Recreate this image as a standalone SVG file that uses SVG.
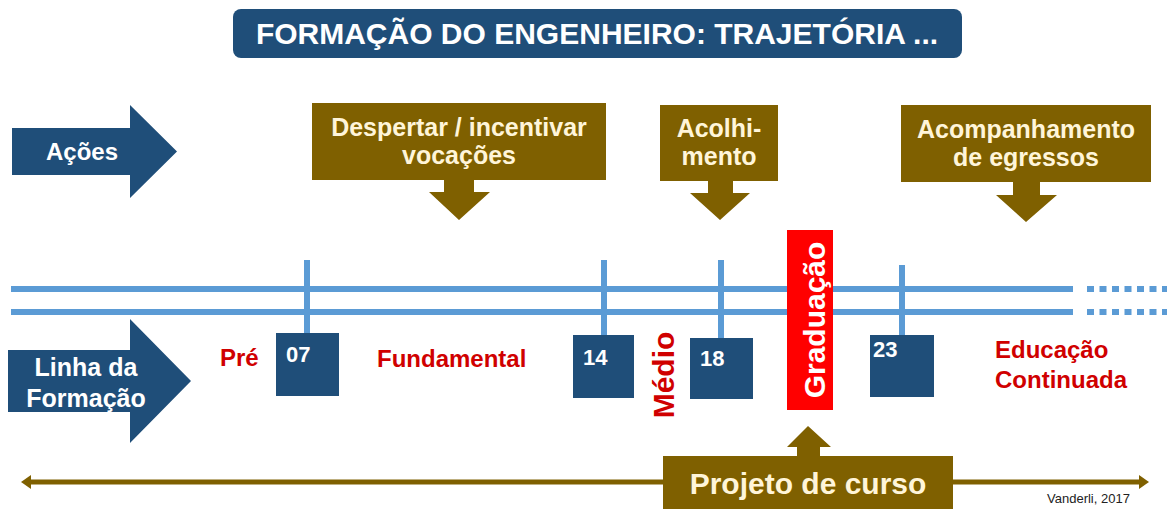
<svg xmlns="http://www.w3.org/2000/svg" width="1167" height="509" viewBox="0 0 1167 509">
<style>
text{font-family:"Liberation Sans",Arial,sans-serif;font-weight:bold}
.blue{fill:#1F4E79}
.brown{fill:#7F6000}
.cream{fill:#FFF5D9;font-size:25px;text-anchor:middle}
.white{fill:#FFFFFF}
.red{fill:#D00000;font-size:24px}
.num{fill:#FFFFFF;font-size:22px}
.tl{stroke:#5B9BD5;stroke-width:6;fill:none}
</style>
<rect width="1167" height="509" fill="#FFFFFF"/>

<g id="title">
<rect x="233" y="9" width="729" height="49" rx="8" class="blue"/>
<text x="597" y="44" class="white" font-size="30" text-anchor="middle">FORMAÇÃO DO ENGENHEIRO: TRAJETÓRIA ...</text>
</g>

<g id="acoes">
<polygon points="12,128 130,128 130,105 177,151.5 130,198 130,175 12,175" class="blue"/>
<text x="82" y="160" class="white" font-size="24" text-anchor="middle">Ações</text>
</g>

<g id="linha">
<polygon points="8,350 130,350 130,319 191,381 130,443 130,412 8,412" class="blue"/>
<text x="86" y="376" class="white" font-size="25" text-anchor="middle">Linha da</text>
<text x="86" y="407" class="white" font-size="25" text-anchor="middle">Formação</text>
</g>

<g id="connectors">
<line x1="11" y1="289" x2="1073" y2="289" class="tl"/>
<line x1="11" y1="312" x2="1073" y2="312" class="tl"/>
<line x1="1087" y1="289" x2="1167" y2="289" class="tl" stroke-dasharray="7 5.5"/>
<line x1="1087" y1="312" x2="1167" y2="312" class="tl" stroke-dasharray="7 5.5"/>
<line x1="307" y1="260" x2="307" y2="334" class="tl"/>
<line x1="604" y1="260" x2="604" y2="336" class="tl"/>
<line x1="721" y1="260" x2="721" y2="339" class="tl"/>
<line x1="902" y1="265" x2="902" y2="336" class="tl"/>
<line x1="30" y1="482" x2="1140" y2="482" stroke="#7F6000" stroke-width="5"/>
<polygon points="21,482 31,475 31,489" class="brown"/>
<polygon points="1149,482 1139,475 1139,489" class="brown"/>
</g>

<g id="despertar">
<rect x="312" y="103" width="294" height="77" class="brown"/>
<polygon points="444,179 474,179 474,192 490,192 459,220 429,192 444,192" class="brown"/>
<text x="459" y="136" class="cream">Despertar / incentivar</text>
<text x="459" y="164" class="cream">vocações</text>
</g>

<g id="acolhimento">
<rect x="660" y="105" width="118" height="76" class="brown"/>
<polygon points="708,180 733,180 733,193 750,193 720,220 690,193 708,193" class="brown"/>
<text x="719" y="137" class="cream">Acolhi-</text>
<text x="719" y="165" class="cream">mento</text>
</g>

<g id="acompanhamento">
<rect x="901" y="105" width="250" height="77" class="brown"/>
<polygon points="1013,181 1040,181 1040,195 1057,195 1026,222 996,195 1013,195" class="brown"/>
<text x="1026" y="138" class="cream">Acompanhamento</text>
<text x="1026" y="166" class="cream">de egressos</text>
</g>

<g id="pre"><text x="220" y="366" class="red">Pré</text></g>

<g id="n07">
<rect x="276" y="333" width="63" height="63" class="blue"/>
<text x="286" y="362" class="num">07</text>
</g>

<g id="fundamental"><text x="377" y="367" class="red">Fundamental</text></g>

<g id="n14">
<rect x="573" y="335" width="61" height="63" class="blue"/>
<text x="583" y="365" class="num">14</text>
</g>

<g id="medio"><text transform="translate(674,375) rotate(-90)" class="red" style="font-size:30px" text-anchor="middle">Médio</text></g>

<g id="n18">
<rect x="690" y="338" width="63" height="61" class="blue"/>
<text x="700" y="366" class="num">18</text>
</g>

<g id="graduacao">
<rect x="787" y="230" width="46" height="180" fill="#FF0000"/>
<text transform="translate(825,320) rotate(-90)" class="white" font-size="30" text-anchor="middle">Graduação</text>
</g>

<g id="n23">
<rect x="870" y="335" width="64" height="62" class="blue"/>
<text x="873" y="357" class="num">23</text>
</g>

<g id="educacao">
<text x="995" y="358" class="red">Educação</text>
<text x="995" y="388" class="red">Continuada</text>
</g>

<g id="projeto">
<polygon points="797,457 820,457 820,447 831,447 808,426 787,447 797,447" class="brown"/>
<rect x="663" y="456" width="290" height="60" class="brown"/>
<text x="808" y="494" class="cream" style="font-size:30px">Projeto de curso</text>
</g>

<g id="credit"><text x="1047" y="503" font-size="13" fill="#222222" style="font-weight:normal">Vanderli, 2017</text></g>
</svg>
